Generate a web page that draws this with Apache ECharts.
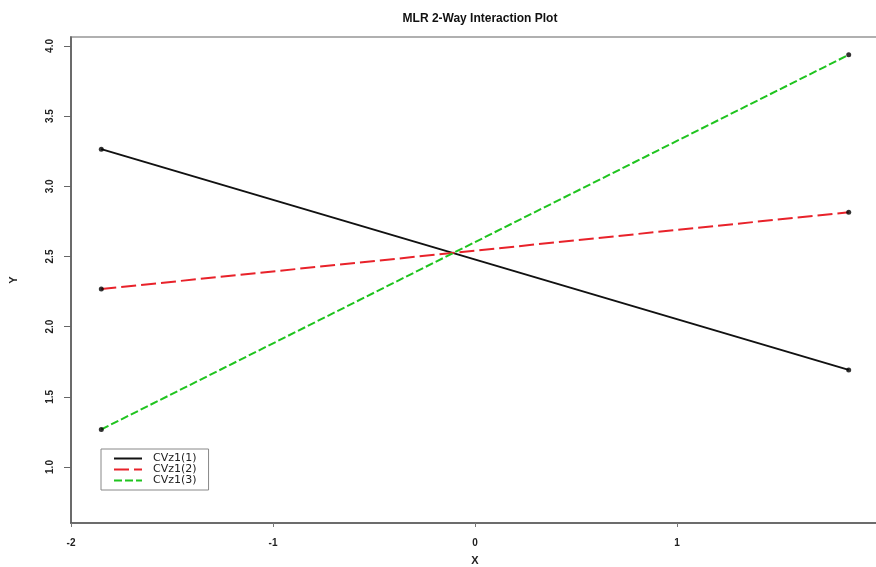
<!DOCTYPE html>
<html>
<head>
<meta charset="utf-8">
<script src="https://cdn.jsdelivr.net/npm/echarts@6/dist/echarts.min.js"></script>
<style>html,body{margin:0;padding:0;background:#fff;}#c{width:876px;height:567px;}</style>
</head>
<body>
<div id="c"></div>
<script>
var xValues = [-1.85, 1.85];
var seriesNames = ['CVz1(1)', 'CVz1(2)', 'CVz1(3)'];
var cv1 = [3.265, 1.692];
var cv2 = [2.268, 2.815];
var cv3 = [1.268, 3.937];
var yTicks = [1.0, 1.5, 2.0, 2.5, 3.0, 3.5, 4.0];

function pairs(ys) { return xValues.map(function (x, i) { return [x, ys[i]]; }); }
var allPts = [].concat(pairs(cv1), pairs(cv2), pairs(cv3));

var font = 'Liberation Sans, Arial, Helvetica, sans-serif';
var chart = echarts.init(document.getElementById('c'), null, { renderer: 'canvas' });
chart.setOption({
  animation: false,
  backgroundColor: '#fff',
  title: {
    text: 'MLR 2-Way Interaction Plot',
    left: 475, top: 8, textAlign: 'center',
    textStyle: { fontFamily: font, fontSize: 12, fontWeight: 'bold', color: '#111' }
  },
  grid: {
    left: 71, top: 37, right: -3, bottom: 44,
    outerBoundsMode: 'none', containLabel: false,
    show: true, borderColor: '#b0b0b0', borderWidth: 2, backgroundColor: '#fff'
  },
  legend: {
    orient: 'vertical', left: 101, top: 449,
    data: seriesNames,
    itemWidth: 28, itemHeight: 9, itemGap: 0,
    padding: [4, 12, 4, 12],
    itemStyle: { opacity: 0 },
    backgroundColor: '#fff', borderColor: '#888', borderWidth: 1, borderRadius: 0,
    textStyle: { fontFamily: 'DejaVu Sans, sans-serif', fontSize: 11, color: '#222', padding: [0, 0, 0, 6] }
  },
  xAxis: {
    type: 'value', min: -2, max: 2, interval: 1,
    name: 'X', nameLocation: 'middle', nameGap: 32,
    nameTextStyle: { fontFamily: font, fontSize: 11, fontWeight: 'bold', color: '#222' },
    axisLine: { show: true, onZero: false, lineStyle: { color: '#555', width: 1.5 } },
    axisTick: { show: true, length: 4, lineStyle: { color: '#777' } },
    axisLabel: { fontFamily: font, fontSize: 10, fontWeight: 'bold', color: '#222', margin: 15, showMaxLabel: true },
    splitLine: { show: false }
  },
  yAxis: {
    type: 'value', min: 0.601, max: 4.064,
    name: 'Y', nameLocation: 'middle', nameGap: 52, nameRotate: 90,
    nameTextStyle: { fontFamily: font, fontSize: 11, fontWeight: 'bold', color: '#222' },
    axisLine: { show: true, onZero: false, lineStyle: { color: '#555', width: 1.5 } },
    axisTick: { show: true, length: 7, customValues: yTicks, lineStyle: { color: '#666' } },
    axisLabel: {
      customValues: yTicks, rotate: 90, fontFamily: font, fontSize: 10, fontWeight: 'bold',
      color: '#222', margin: 16,
      formatter: function (v) { return Number(v).toFixed(1); }
    },
    splitLine: { show: false }
  },
  series: [
    { name: seriesNames[0], type: 'line', data: pairs(cv1), symbol: 'none', z: 3,
      lineStyle: { color: '#111', width: 2, type: 'solid' }, itemStyle: { color: '#111' } },
    { name: seriesNames[1], type: 'line', data: pairs(cv2), symbol: 'none', z: 3,
      lineStyle: { color: '#e8222a', width: 2, type: [15, 5] }, itemStyle: { color: '#e8222a' } },
    { name: seriesNames[2], type: 'line', data: pairs(cv3), symbol: 'none', z: 3,
      lineStyle: { color: '#1fc41f', width: 2, type: [8, 3] }, itemStyle: { color: '#1fc41f' } },
    { name: 'pts', type: 'scatter', data: allPts, symbol: 'circle', symbolSize: 5, z: 4,
      itemStyle: { color: '#000' } }
  ]
});
</script>
</body>
</html>
